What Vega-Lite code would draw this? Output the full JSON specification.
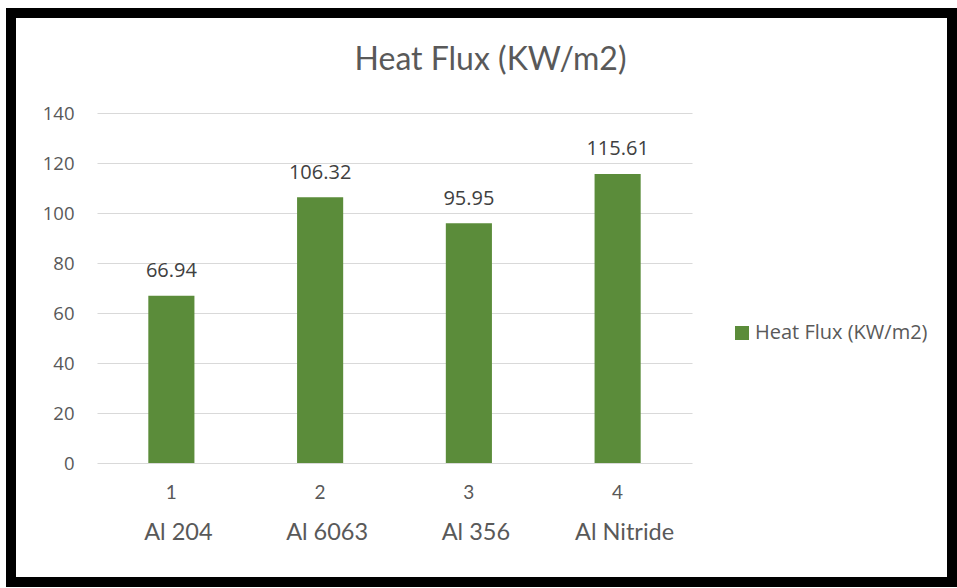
{
  "$schema": "https://vega.github.io/schema/vega-lite/v6.json",
  "width": 941,
  "height": 569,
  "autosize": {"type": "none"},
  "padding": {"left": 11, "top": 13, "right": 5, "bottom": 6},
  "background": "white",
  "config": {
    "view": {"fill": "white", "stroke": "black", "strokeWidth": 10}
  },
  "title": {
    "text": "Heat Flux (KW/m2)",
    "font": "Lato",
    "fontSize": 32,
    "fontWeight": "normal",
    "color": "#595959",
    "anchor": "middle",
    "frame": "group",
    "offset": -64,
    "dx": 9
  },
  "data": {
    "values": [
      {"material": "Al 204", "value": 66.94},
      {"material": "Al 6063", "value": 106.32},
      {"material": "Al 356", "value": 95.95},
      {"material": "Al Nitride", "value": 115.61}
    ]
  },
  "encoding": {
    "x": {
      "field": "material",
      "type": "nominal",
      "sort": null,
      "scale": {"range": [86, 681], "paddingInner": 0.69, "paddingOuter": 0.345}
    },
    "y": {
      "field": "value",
      "type": "quantitative",
      "scale": {"domain": [0, 140], "range": [450, 100], "nice": false},
      "axis": {
        "title": null,
        "values": [0, 20, 40, 60, 80, 100, 120, 140],
        "offset": -63,
        "domain": false,
        "ticks": false,
        "tickSize": 0,
        "labelPadding": 0,
        "labelFont": "Open Sans",
        "labelFontSize": 18.5,
        "labelColor": "#595959",
        "grid": true,
        "gridColor": "#D9D9D9",
        "gridWidth": 1
      }
    }
  },
  "layer": [
    {
      "mark": {"type": "bar", "color": "#5B8C3A"},
      "encoding": {
        "x": {
          "field": "material",
          "type": "nominal",
          "sort": null,
          "axis": {
            "title": null,
            "orient": "bottom",
            "offset": -119,
            "domain": false,
            "ticks": false,
            "tickSize": 0,
            "labelPadding": 20,
            "labelAngle": 0,
            "labelExpr": "indexof(domain('x'), datum.value) + 1",
            "labelFont": "Lato",
            "labelFontSize": 19,
            "labelColor": "#595959",
            "grid": false
          }
        },
        "color": {
          "datum": "Heat Flux (KW/m2)",
          "type": "nominal",
          "scale": {"range": ["#5B8C3A"]},
          "legend": {
            "title": null,
            "orient": "none",
            "legendX": 721,
            "legendY": 310,
            "symbolType": "square",
            "symbolSize": 196,
            "symbolStrokeWidth": 0,
            "labelFont": "Open Sans",
            "labelFontSize": 20,
            "labelColor": "#595959",
            "labelOffset": 3,
            "labelLimit": 400
          }
        }
      }
    },
    {
      "mark": {
        "type": "text",
        "baseline": "bottom",
        "dy": -14.5,
        "font": "Open Sans",
        "fontSize": 20,
        "color": "#404040"
      },
      "encoding": {
        "x": {
          "field": "material",
          "type": "nominal",
          "sort": null,
          "axis": {
            "title": null,
            "orient": "bottom",
            "offset": -119,
            "domain": false,
            "ticks": false,
            "tickSize": 0,
            "labelPadding": 57,
            "labelOffset": 7,
            "labelAngle": 0,
            "labelFont": "Lato",
            "labelFontSize": 23.5,
            "labelColor": "#595959",
            "grid": false
          }
        },
        "text": {"field": "value", "type": "quantitative", "format": ".2f"}
      }
    }
  ],
  "resolve": {"axis": {"x": "independent"}}
}
